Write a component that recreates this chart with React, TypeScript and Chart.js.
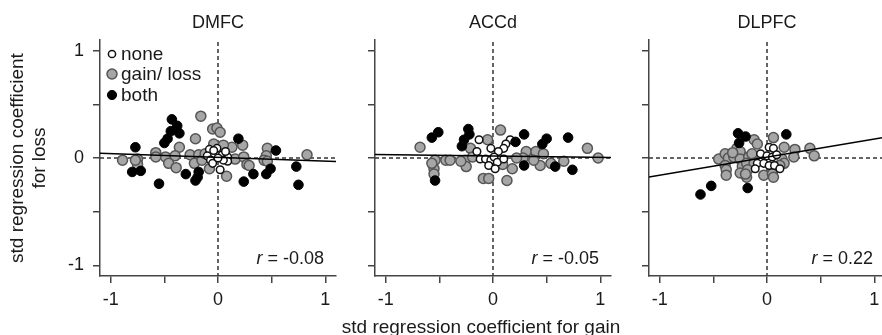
import React, { useEffect, useRef } from 'react';
import { Chart, registerables } from 'chart.js';

Chart.register(...registerables);

type Pt = [number, number];

const FONT = '"Liberation Sans", Arial, Helvetica, sans-serif';

const panelTitles = ['DMFC', 'ACCd', 'DLPFC'];
const rValues = ['-0.08', '-0.05', '0.22'];
const regSlopes = [-0.035, -0.013, 0.169];
const regIntercepts = [0.006, 0.018, 0.008];
const tickValues = [-1, -0.5, 0, 0.5, 1];
const tickLabels = ['-1', '', '0', '', '1'];
const legendLabels = ['none', 'gain/ loss', 'both'];
const yAxisTitle = ['std regression coefficient', 'for loss'];
const xAxisTitle = 'std regression coefficient for gain';

// DMFC
const dmfcNone: Pt[] = [
  [-0.01, 0.09], [0.04, 0.03], [0.09, 0.01], [0.09, -0.03], [0.05, -0.02], [0.02, -0.11],
  [-0.08, 0.08], [-0.04, 0.07], [-0.1, 0.02], [-0.07, -0.02], [-0.05, -0.05], [0.0, 0.0], [0.07, 0.06],
];
const dmfcGainLoss: Pt[] = [
  [-0.16, 0.39], [-0.05, 0.27], [-0.01, 0.28], [0.02, 0.24], [-0.21, 0.18], [-0.04, 0.13],
  [-0.36, 0.1], [-0.58, 0.05], [-0.49, 0.01], [-0.4, 0.02], [-0.26, 0.03], [-0.18, 0.03],
  [-0.89, -0.02], [-0.75, -0.01], [-0.75, -0.06], [-0.46, -0.05], [-0.39, -0.09], [-0.22, -0.05],
  [-0.15, -0.02], [-0.08, -0.1], [0.13, 0.1], [0.23, 0.12], [0.16, -0.01], [0.24, 0.01],
  [0.27, -0.06], [0.08, -0.17], [0.46, 0.09], [0.45, 0.02], [0.43, -0.02], [0.46, -0.03],
  [0.83, 0.03], [-0.58, 0.01], [-0.12, 0.04], [0.05, 0.12], [-0.77, -0.02], [0.29, -0.07],
];
const dmfcBoth: Pt[] = [
  [-0.43, 0.36], [-0.38, 0.3], [-0.44, 0.25], [-0.36, 0.23], [-0.47, 0.18], [-0.5, 0.14],
  [-0.77, 0.1], [-0.8, -0.13], [-0.72, -0.12], [-0.55, -0.24], [-0.3, -0.15], [-0.18, -0.13],
  [-0.19, -0.18], [-0.21, -0.21], [0.19, 0.18], [0.54, 0.07], [0.49, -0.1], [0.45, -0.15],
  [0.33, -0.15], [0.24, -0.22], [0.73, -0.08], [0.75, -0.25],
];

// ACCd
const accNone: Pt[] = [
  [-0.13, 0.17], [-0.02, 0.09], [-0.15, 0.06], [-0.12, -0.01], [-0.07, -0.01], [-0.02, -0.02],
  [-0.04, -0.07], [0.16, 0.17], [0.12, 0.13], [0.1, 0.09], [0.05, 0.06], [0.01, 0.01],
  [0.04, -0.04], [0.02, -0.1], [0.1, -0.01],
];
const accGainLoss: Pt[] = [
  [-0.68, 0.1], [-0.54, -0.02], [-0.55, -0.1], [-0.44, -0.02], [-0.4, -0.02], [-0.26, -0.02],
  [-0.25, -0.08], [-0.21, 0.09], [-0.19, 0.01], [-0.05, 0.17], [-0.09, -0.19], [-0.04, -0.19],
  [0.07, 0.26], [0.31, 0.06], [0.4, 0.06], [0.47, 0.04], [0.28, 0.0], [0.44, -0.07],
  [0.54, -0.05], [0.66, -0.03], [0.88, 0.09], [0.98, 0.0], [0.18, -0.1], [0.09, -0.06],
  [0.13, -0.21], [0.38, -0.02], [-0.57, -0.05], [-0.3, -0.03], [0.22, 0.0], [-0.55, -0.15],
];
const accBoth: Pt[] = [
  [-0.57, 0.19], [-0.51, 0.24], [-0.23, 0.27], [-0.22, 0.22], [-0.27, 0.17], [-0.29, 0.11],
  [-0.54, -0.21], [0.29, 0.22], [0.5, 0.18], [0.46, 0.13], [0.7, 0.19], [0.29, -0.07],
  [0.58, -0.08], [0.74, -0.11], [0.21, 0.15],
];

// DLPFC
const dlpfcNone: Pt[] = [
  [0.02, 0.1], [0.06, 0.09], [-0.06, 0.04], [0.0, 0.02], [0.05, 0.01], [0.09, 0.03],
  [-0.09, -0.05], [-0.03, -0.05], [0.02, -0.07], [0.07, -0.07], [0.12, -0.1], [-0.11, -0.1],
];
const dlpfcGainLoss: Pt[] = [
  [-0.45, -0.01], [-0.39, 0.04], [-0.36, 0.0], [-0.39, -0.07], [-0.38, -0.11], [-0.38, -0.16],
  [-0.28, 0.09], [-0.25, 0.06], [-0.31, 0.01], [-0.25, -0.01], [-0.23, -0.08], [-0.25, -0.14],
  [-0.19, -0.18], [-0.17, 0.01], [-0.19, -0.05], [-0.12, 0.17], [-0.14, 0.04], [-0.12, -0.05],
  [-0.18, -0.11], [-0.09, 0.13], [0.06, 0.19], [0.16, 0.1], [0.26, 0.08], [0.4, 0.09],
  [0.44, 0.02], [0.25, 0.01], [0.14, -0.01], [0.16, -0.05], [-0.03, -0.16], [0.05, -0.15],
  [0.06, -0.18], [-0.2, -0.15], [-0.32, 0.05], [0.12, -0.07],
];
const dlpfcBoth: Pt[] = [
  [-0.27, 0.23], [-0.2, 0.2], [-0.26, 0.14], [-0.52, -0.26], [-0.62, -0.34], [-0.18, -0.28], [0.18, 0.22],
];

const noneSets = [dmfcNone, accNone, dlpfcNone];
const gainLossSets = [dmfcGainLoss, accGainLoss, dlpfcGainLoss];
const bothSets = [dmfcBoth, accBoth, dlpfcBoth];

const AXIS_MIN = -1.1;
const AXIS_MAX = 1.1;
const Y_AXIS_W = 60;
const X_AXIS_H = 59;
const PLOT_W = 236;
const PAD_R = 10;
const CANVAS_W = Y_AXIS_W + PLOT_W + PAD_R;
const CANVAS_H = 335;
const panelLefts = [40, 315, 589];

const GRAY = '#a6a6a6';
const GRAY_BORDER = '#555555';
const AXIS_COLOR = '#444444';
const TEXT_COLOR = '#1a1a1a';

const toXY = (pts: Pt[]) => pts.map(([x, y]) => ({ x, y }));

function makeChart(canvas: HTMLCanvasElement, idx: number) {
  const fit = [AXIS_MIN, AXIS_MAX].map((x) => ({ x, y: regIntercepts[idx] + regSlopes[idx] * x }));

  const zeroLines = {
    id: 'zeroLines',
    beforeDatasetsDraw(chart: any) {
      const { ctx, chartArea, scales } = chart;
      const x0 = scales.x.getPixelForValue(0);
      const y0 = scales.y.getPixelForValue(0);
      ctx.save();
      ctx.strokeStyle = '#333';
      ctx.lineWidth = 1.5;
      ctx.setLineDash([4, 3]);
      ctx.beginPath();
      ctx.moveTo(chartArea.left, y0);
      ctx.lineTo(chartArea.right, y0);
      ctx.moveTo(x0, chartArea.top + 2);
      ctx.lineTo(x0, chartArea.bottom);
      ctx.stroke();
      ctx.restore();
    },
  };

  const rText = {
    id: 'rText',
    afterDraw(chart: any) {
      const { ctx, chartArea } = chart;
      ctx.save();
      ctx.fillStyle = TEXT_COLOR;
      ctx.textBaseline = 'middle';
      ctx.textAlign = 'left';
      const rest = ' = ' + rValues[idx];
      ctx.font = `italic 18px ${FONT}`;
      const w1 = ctx.measureText('r').width;
      ctx.font = `18px ${FONT}`;
      const w2 = ctx.measureText(rest).width;
      const x0 = chartArea.right - 12 - w1 - w2;
      const y = chartArea.bottom - 17;
      ctx.font = `italic 18px ${FONT}`;
      ctx.fillText('r', x0, y);
      ctx.font = `18px ${FONT}`;
      ctx.fillText(rest, x0 + w1, y);
      ctx.restore();
    },
  };

  const legendPlugin = {
    id: 'insideLegend',
    afterDraw(chart: any) {
      if (idx !== 0) return;
      const { ctx, chartArea } = chart;
      const styles = [
        { r: 3.6, fill: '#ffffff', stroke: '#111', lw: 1.5 },
        { r: 5, fill: GRAY, stroke: GRAY_BORDER, lw: 1.5 },
        { r: 4.6, fill: '#000', stroke: '#000', lw: 1 },
      ];
      const offs = [14, 34, 55];
      ctx.save();
      legendLabels.forEach((lab, i) => {
        const y = chartArea.top + offs[i];
        const mx = chartArea.left + 12;
        const s = styles[i];
        ctx.beginPath();
        ctx.arc(mx, y, s.r, 0, Math.PI * 2);
        ctx.fillStyle = s.fill;
        ctx.fill();
        ctx.lineWidth = s.lw;
        ctx.strokeStyle = s.stroke;
        ctx.stroke();
        ctx.fillStyle = TEXT_COLOR;
        ctx.font = `19px ${FONT}`;
        ctx.textBaseline = 'middle';
        ctx.textAlign = 'left';
        ctx.fillText(lab, chartArea.left + 21, y + 1);
      });
      ctx.restore();
    },
  };

  const axisCommon = (isX: boolean) => ({
    type: 'linear' as const,
    min: AXIS_MIN,
    max: AXIS_MAX,
    afterBuildTicks: (s: any) => {
      s.ticks = tickValues.map((v) => ({ value: v }));
    },
    ticks: {
      autoSkip: false,
      maxRotation: 0,
      padding: isX ? 6 : 9,
      color: TEXT_COLOR,
      font: { size: 18, family: FONT },
      callback: (v: any) => {
        if (!isX && idx !== 0) return '';
        const i = tickValues.indexOf(Number(v));
        return i >= 0 ? tickLabels[i] : '';
      },
    },
    grid: {
      display: true,
      drawOnChartArea: false,
      drawTicks: true,
      tickLength: 7,
      color: AXIS_COLOR,
      lineWidth: 1.5,
    },
    border: { display: true, color: AXIS_COLOR, width: 1.5 },
    afterFit: (s: any) => {
      if (isX) s.height = X_AXIS_H;
      else s.width = Y_AXIS_W;
    },
  });

  return new Chart(canvas, {
    type: 'scatter',
    data: {
      datasets: [
        {
          type: 'line',
          label: 'fit',
          data: fit,
          borderColor: '#000',
          borderWidth: 1.5,
          pointRadius: 0,
          showLine: true,
          fill: false,
          order: 0,
        } as any,
        {
          label: 'both',
          data: toXY(bothSets[idx]),
          backgroundColor: '#000',
          borderColor: '#000',
          borderWidth: 1,
          pointRadius: 4.8,
          order: 1,
        },
        {
          label: 'none',
          data: toXY(noneSets[idx]),
          backgroundColor: '#fff',
          borderColor: '#111',
          borderWidth: 1.5,
          pointRadius: 3.8,
          order: 2,
        },
        {
          label: 'gain/ loss',
          data: toXY(gainLossSets[idx]),
          backgroundColor: GRAY,
          borderColor: GRAY_BORDER,
          borderWidth: 1.5,
          pointRadius: 5,
          order: 3,
        },
      ],
    },
    options: {
      responsive: false,
      animation: false,
      devicePixelRatio: 1,
      layout: { padding: { left: 0, right: PAD_R, top: 0, bottom: 0 } },
      plugins: {
        legend: { display: false },
        tooltip: { enabled: false },
        title: {
          display: true,
          text: panelTitles[idx],
          fullSize: false,
          color: TEXT_COLOR,
          font: { size: 18, family: FONT, weight: 'normal' as any, lineHeight: 1.2 },
          padding: { top: 12, bottom: 6.4 },
        },
      },
      scales: {
        x: axisCommon(true) as any,
        y: axisCommon(false) as any,
      },
    },
    plugins: [zeroLines, rText, legendPlugin],
  });
}

function Panel({ idx }: { idx: number }) {
  const ref = useRef<HTMLCanvasElement | null>(null);
  useEffect(() => {
    if (!ref.current) return;
    const chart = makeChart(ref.current, idx);
    return () => chart.destroy();
  }, [idx]);
  return (
    <canvas
      ref={ref}
      width={CANVAS_W}
      height={CANVAS_H}
      style={{ position: 'absolute', left: panelLefts[idx], top: 0, width: CANVAS_W, height: CANVAS_H }}
    />
  );
}

export default function App() {
  return (
    <div
      style={{
        position: 'absolute',
        left: 0,
        top: 0,
        width: 882,
        height: 335,
        overflow: 'hidden',
        background: '#fff',
        fontFamily: FONT,
        color: TEXT_COLOR,
      }}
    >
      {[0, 1, 2].map((i) => (
        <Panel key={i} idx={i} />
      ))}
      <div
        style={{
          position: 'absolute',
          left: 28 - 130,
          top: 158 - 22,
          width: 260,
          height: 44,
          transform: 'rotate(-90deg)',
          transformOrigin: '50% 50%',
          textAlign: 'center',
          fontSize: 19,
          lineHeight: '22px',
          whiteSpace: 'nowrap',
        }}
      >
        <div>{yAxisTitle[0]}</div>
        <div>{yAxisTitle[1]}</div>
      </div>
      <div
        style={{
          position: 'absolute',
          left: 481 - 200,
          top: 316,
          width: 400,
          textAlign: 'center',
          fontSize: 19,
          lineHeight: '22px',
          whiteSpace: 'nowrap',
        }}
      >
        {xAxisTitle}
      </div>
    </div>
  );
}
